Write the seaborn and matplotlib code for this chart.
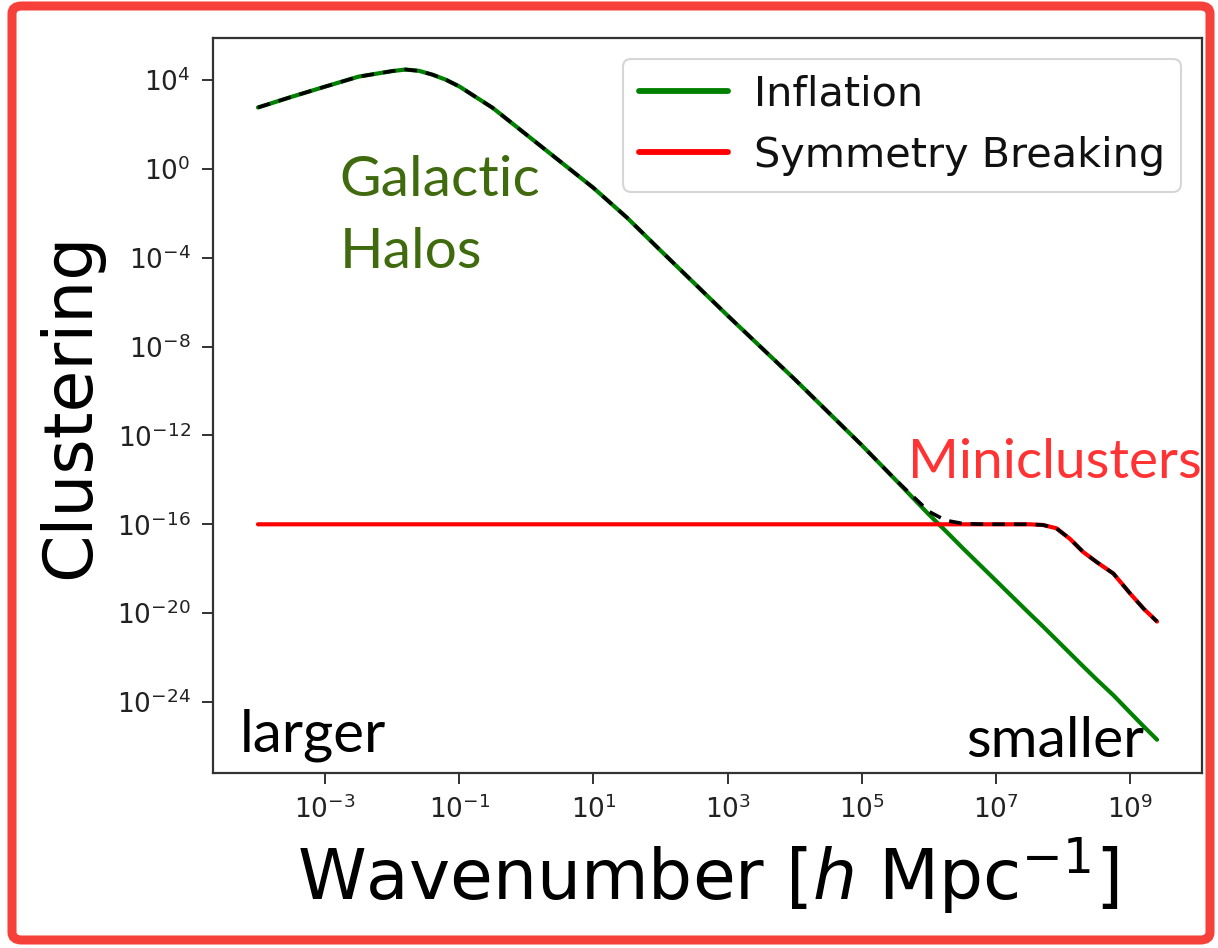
import numpy as np
import pandas as pd
import matplotlib
matplotlib.use("Agg")
import matplotlib.pyplot as plt
import seaborn as sns
from matplotlib.patches import FancyBboxPatch
from matplotlib.lines import Line2D

# ---- data (log10 values) ----
log_k = [-4.0, -3.5, -3.0, -2.5, -2.0, -1.8, -1.6, -1.4, -1.2, -1.0, -0.5, 0.0, 0.5,
         1.0, 1.5, 2.0, 3.0, 4.0, 5.0, 5.5, 6.0, 6.25, 6.5, 6.75, 7.0, 7.5, 7.7, 7.9,
         8.1, 8.3, 8.5, 8.75, 9.0, 9.2, 9.4]
log_inflation = [2.77, 3.25, 3.71, 4.16, 4.41, 4.48, 4.42, 4.25, 4.02, 3.72, 2.75, 1.55, 0.35,
                 -0.85, -2.19, -3.67, -6.60, -9.47, -12.44, -13.99, -15.56, -16.3, -17.06, -17.8,
                 -18.54, -20.02, -20.6, -21.2, -21.8, -22.4, -22.99, -23.7, -24.48, -25.1, -25.7]
log_symmetry = [-16.0] * 25 + [-16.0, -16.03, -16.18, -16.65, -17.25, -17.7, -18.22,
                                -19.12, -19.8, -20.38]

x_ticks = [1e-3, 1e-1, 1e1, 1e3, 1e5, 1e7, 1e9]
y_ticks = [1e-24, 1e-20, 1e-16, 1e-12, 1e-8, 1e-4, 1e0, 1e4]

series_labels = ["Inflation", "Symmetry Breaking"]

k = 10.0 ** np.array(log_k)
p_inf = 10.0 ** np.array(log_inflation)
p_sym = 10.0 ** np.array(log_symmetry)
p_tot = p_inf + p_sym

df = pd.DataFrame({"k": k, "inf": p_inf, "sym": p_sym, "tot": p_tot})

# ---- figure ----
sns.set_style("ticks")
plt.rcParams["font.family"] = ["DejaVu Sans"]

W, H = 1218, 948
fig = plt.figure(figsize=(W / 100, H / 100), dpi=100)
ax = fig.add_axes([213 / W, 1 - 773 / H, (1202 - 213) / W, (773 - 38) / H])

lw = 3.0
sns.lineplot(data=df, x="k", y="inf", ax=ax, color="green", lw=lw, sort=False,
             estimator=None, label=series_labels[0])
sns.lineplot(data=df, x="k", y="sym", ax=ax, color="red", lw=lw, sort=False,
             estimator=None, label=series_labels[1])
sns.lineplot(data=df, x="k", y="tot", ax=ax, color="black", lw=2.6, sort=False,
             estimator=None, dashes=False, linestyle=(0, (3.5, 2.5)))

ax.set_xscale("log")
ax.set_yscale("log")
ax.set_xlim(10 ** -4.67, 10 ** 10.07)
ax.set_ylim(10 ** -27.2, 10 ** 5.9)
ax.set_xticks(x_ticks)
ax.set_yticks(y_ticks)
ax.minorticks_off()
ax.tick_params(axis="both", which="major", labelsize=19, length=8, width=1.3,
               colors="#222222", labelcolor="#222222", pad=8)
for s in ax.spines.values():
    s.set_linewidth(1.6)
    s.set_color("#333333")

ax.set_xlabel(r"Wavenumber [$h$ Mpc$^{-1}$]", fontsize=50, labelpad=8, color="black")
ax.set_ylabel("Clustering", fontsize=49, labelpad=10, color="black")

handles = [Line2D([], [], color="green", lw=4.2), Line2D([], [], color="red", lw=4.2)]
leg = ax.legend(handles, series_labels, loc="upper right", fontsize=29.8,
                frameon=True, handlelength=2.15, borderaxespad=0.5,
                labelspacing=0.52, handletextpad=0.65, borderpad=0.38)
leg.get_frame().set_edgecolor("#cccccc")
leg.get_frame().set_linewidth(1.5)
for t in leg.get_texts():
    t.set_color("#111111")

ann_font = ["Lato", "DejaVu Sans"]
ax.text(0.128, 0.785, "Galactic", transform=ax.transAxes, fontsize=41, color="#3f6b0e",
        family=ann_font, va="baseline", ha="left")
ax.text(0.128, 0.687, "Halos", transform=ax.transAxes, fontsize=41, color="#3f6b0e",
        family=ann_font, va="baseline", ha="left")
ax.text(0.703, 0.401, "Miniclusters", transform=ax.transAxes, fontsize=39.5, color="#ff3333",
        family=ann_font, va="baseline", ha="left", clip_on=False)
ax.text(0.027, 0.0286, "larger", transform=ax.transAxes, fontsize=42, color="black",
        family=ann_font, va="baseline", ha="left")
ax.text(0.762, 0.022, "smaller", transform=ax.transAxes, fontsize=41, color="black",
        family=ann_font, va="baseline", ha="left")

# red frame around the figure
border = FancyBboxPatch((12 / W, 8 / H), (W - 20) / W, (H - 14) / H,
                        boxstyle="round,pad=0,rounding_size=0.008",
                        transform=fig.transFigure, fill=False,
                        edgecolor="#f5413a", linewidth=6.5)
fig.patches.append(border)

fig.savefig("out.png", dpi=100)
